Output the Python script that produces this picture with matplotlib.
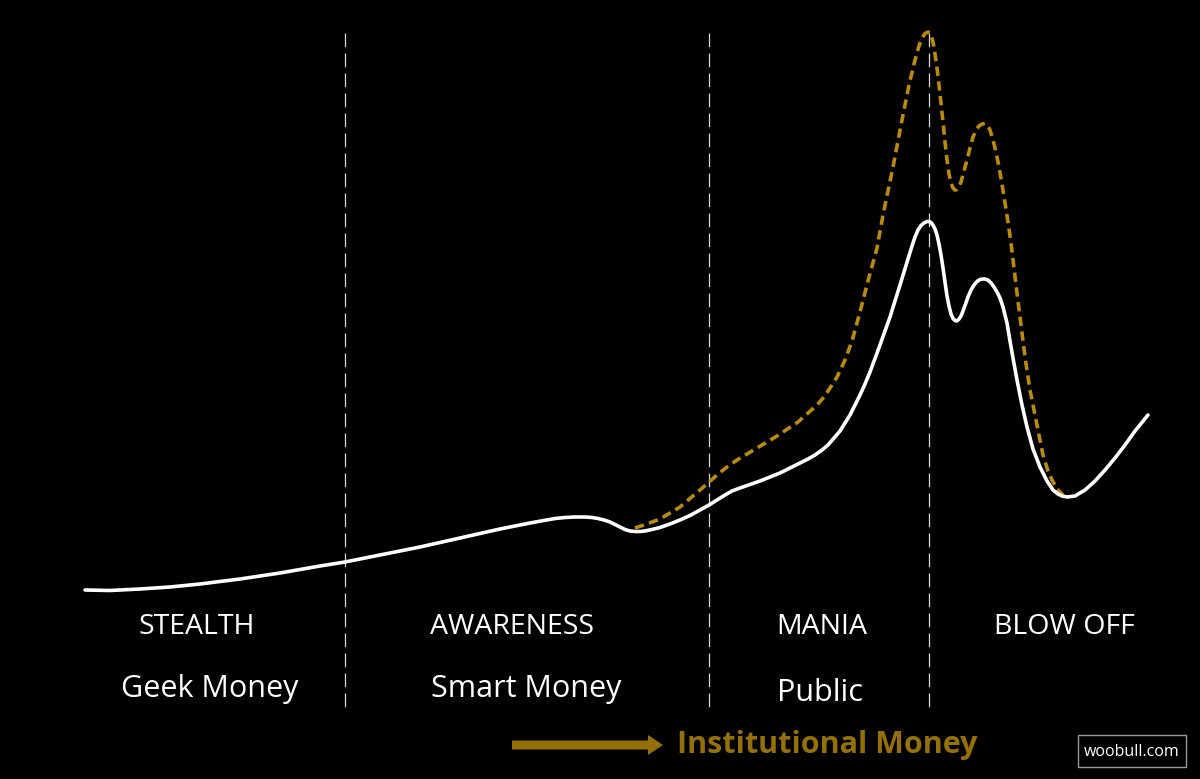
import matplotlib
matplotlib.use("Agg")
import matplotlib.pyplot as plt
from matplotlib.patches import Rectangle, FancyArrow

# Values (image-pixel scale)
white_x = [85,110,140,170,200,240,280,320,345,380,420,460,500,530,555,565,575,585,592,598,604,610,615,620,625,630,635,640,645,652,660,670,680,690,700,709,717,725,732,740,760,780,800,808,815,822,828,834,840,845,850,855,860,865,870,880,890,900,908,912,915,918,921,924,927,929,931,933,935,937,939,941,943,945,947,949,951,953,955,957,959,961,963,965,968,971,974,977,980,983,985,988,991,994,997,1000,1003,1007,1010,1013,1017,1022,1027,1033,1040,1047,1053,1058,1062,1067,1075,1085,1095,1105,1115,1125,1135,1148]
white_y = [590,590.5,589,587,584,579,573,566,562,555,547,538,529,523,518.5,517.5,517,517,517.5,518.5,520,522,524.5,527,529.5,531,531.5,531.5,531,529.5,527.5,524,520,515.5,510,505,500,495,491,488,481,473,463,459,455,450,445,438,431,423,415,405,395,384,372,345,317,285,259,246,237,230,225.5,223,221.5,221.5,222.5,225,229,235,244,255,268,282,296,306,314,318.5,320.5,321,319,316,311,305.5,297,290,285,281.5,279.5,279,279,280,283,287,292,298,307,323,341,358,380,405,427,449,467,481,490,494,496,497,496,490,481,470,458,445,431,415]
gold_x = [635,647,660,680,700,708,717,727,737,757,777,798,817,824,830,837,845,852,860,868,877,883,893,902,909,915,919,922,925,928,931,933,935,937,939,941,943,945,947,949,951,953,955,957,959,961,964,967,970,973,976,979,982,985,988,990,993,996,999,1002,1005,1008,1011,1014,1017,1020,1025,1030,1037,1043,1048,1052,1057,1063]
gold_y = [528,524,519,507,490,483,475,467,460,448,436,422,405,397,388,377,360,341,312,281,248,215,167,120,85,60,46,38,33.5,32,34,42,54,68,85,103,122,142,160,174,183,188,190,189.5,187,182,171,160,148,137,130,126,124,123.5,126,130,140,152,167,184,203,222,243,268,293,317,357,390,425,455,471,480,489,495]
phase_x = [345,709,929]
phase_names = ["STEALTH","AWARENESS","MANIA","BLOW OFF"]
phase_name_x = [197,512,822,1064]
money_names = ["Geek Money","Smart Money","Public"]
money_x = [210,526,820]
money_y = [689,689,693]
arrow_label = "Institutional Money"
credit = "woobull.com"

GOLD = "#b98a10"
ARROW = "#94700b"
plt.rcParams["font.family"] = ["Open Sans","DejaVu Sans"]

fig = plt.figure(figsize=(12,7.79), dpi=100, facecolor="black")
ax = fig.add_axes([0,0,1,1])
ax.set_xlim(0,1200); ax.set_ylim(779,0); ax.axis("off")

for x in phase_x:
    ax.plot([x,x],[33,707],color="#d8d8d8",lw=0.9,dashes=(11,5),zorder=1)

ax.plot(gold_x,gold_y,color=GOLD,lw=2.6,dashes=(2.6,1.5),dash_joinstyle="round",zorder=2)
ax.plot(white_x,white_y,color="white",lw=2.6,solid_joinstyle="round",solid_capstyle="round",zorder=3)

for n,x in zip(phase_names,phase_name_x):
    ax.text(x,627,n,color="white",fontsize=20.5,ha="center",va="center")
for n,x,y in zip(money_names,money_x,money_y):
    ax.text(x,y,n,color="white",fontsize=22,ha="center",va="center")

ax.add_patch(FancyArrow(512,745,151,0,width=9,head_width=20,head_length=15,
                        length_includes_head=True,color=ARROW,lw=0))
ax.text(827,745,arrow_label,color=ARROW,fontsize=22,fontweight="bold",ha="center",va="center")

ax.add_patch(Rectangle((1078,735),108,32,fill=False,edgecolor="#9a9a9a",lw=1))
ax.text(1132,752,credit,color="white",fontsize=11.5,ha="center",va="center")

fig.savefig("out.png",dpi=100,facecolor="black")
